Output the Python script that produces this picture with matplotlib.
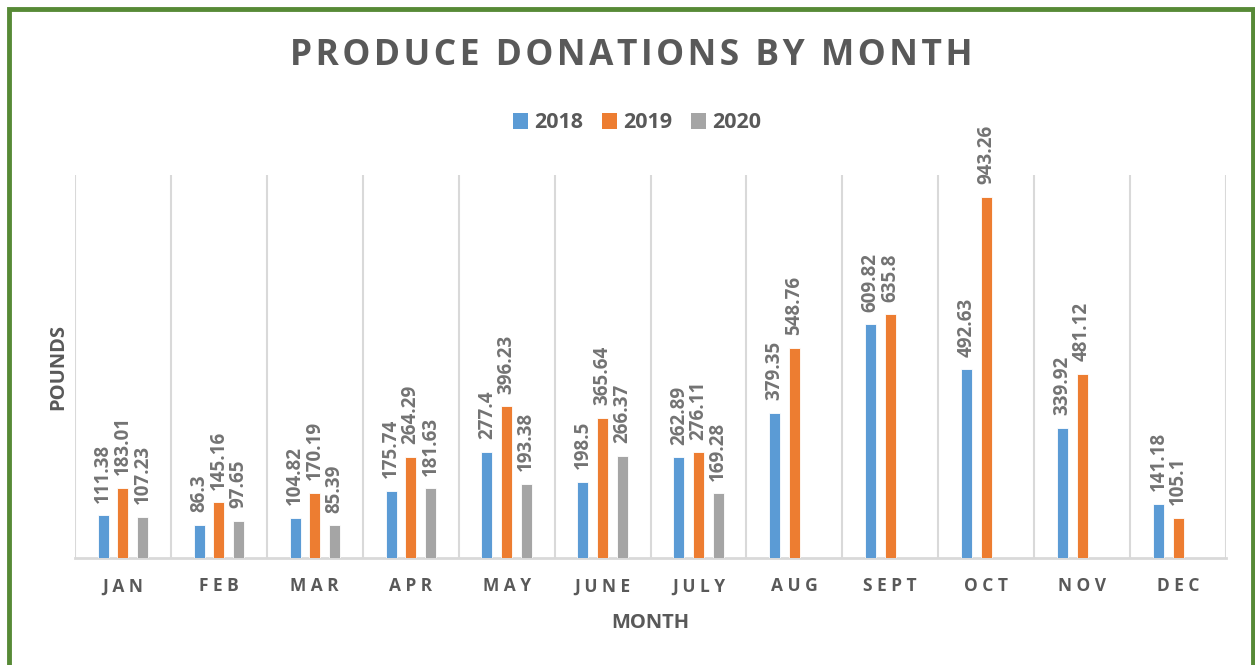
import numpy as np
import matplotlib
matplotlib.use("Agg")
import matplotlib.pyplot as plt
from matplotlib.patches import Patch, Rectangle

months = ["JAN", "FEB", "MAR", "APR", "MAY", "JUNE", "JULY", "AUG", "SEPT", "OCT", "NOV", "DEC"]
years = ["2018", "2019", "2020"]
v2018 = [111.38, 86.3, 104.82, 175.74, 277.4, 198.5, 262.89, 379.35, 609.82, 492.63, 339.92, 141.18]
v2019 = [183.01, 145.16, 170.19, 264.29, 396.23, 365.64, 276.11, 548.76, 635.8, 943.26, 481.12, 105.1]
v2020 = [107.23, 97.65, 85.39, 181.63, 193.38, 266.37, 169.28, None, None, None, None, None]
colors = ["#5B9BD5", "#ED7D31", "#A5A5A5"]

plt.rcParams['font.family'] = ['Open Sans', 'DejaVu Sans']
TXT = "#595959"
LBL = "#737373"

def spaced(s, sep="\u200a"):
    return sep.join(s)

fig = plt.figure(figsize=(12.55, 6.65), dpi=100)
W, H = 1255, 665
ax = fig.add_axes([75 / W, 1 - 558 / H, (1226 - 75) / W, (558 - 175) / H])

x = np.arange(len(months))
pitch = 0.205
bw = 0.115
series = [v2018, v2019, v2020]
for i, (vals, c, yr) in enumerate(zip(series, colors, years)):
    for xi, v in zip(x, vals):
        if v is None:
            continue
        xp = xi + (i - 1) * pitch
        ax.bar(xp, v, width=bw, color=c, edgecolor="white", linewidth=0.6, zorder=3)
        ax.annotate(f"{v:g}", (xp, v), xytext=(0, 9), textcoords="offset points",
                    rotation=90, ha="center", va="bottom",
                    fontsize=13.5, fontweight="bold", color=LBL, zorder=4)

ax.set_xlim(-0.5, len(months) - 0.5)
ax.set_ylim(0, 1000)
for b in np.arange(-0.5, len(months), 1.0):
    ax.axvline(b, color="#D9D9D9", linewidth=1.5, zorder=1)
for sp in ["top", "right", "left"]:
    ax.spines[sp].set_visible(False)
ax.spines["bottom"].set_color("#D9D9D9")
ax.spines["bottom"].set_linewidth(2)
ax.set_yticks([])
ax.set_xticks(x)
ax.set_xticklabels([spaced(m, " ") for m in months], fontsize=12.5, fontweight="bold", color=TXT)
ax.tick_params(axis="x", length=0, pad=14)
ax.set_facecolor("none")

fig.text(650 / W, 1 - 623 / H, "MONTH", ha="center", va="center", fontsize=14.5, fontweight="bold", color=TXT)
fig.text(58 / W, 1 - 367 / H, "POUNDS", ha="center", va="center", rotation=90, fontsize=14.5, fontweight="bold", color=TXT)
fig.text(631 / W, 1 - 56 / H, spaced("PRODUCE DONATIONS BY MONTH", "\u200a"), ha="center", va="center",
         fontsize=25.5, fontweight="bold", color=TXT)

handles = [Patch(facecolor=c, label=y) for c, y in zip(colors, years)]
leg = fig.legend(handles=handles, loc="center", bbox_to_anchor=(637 / W, 1 - 123 / H), ncol=3, frameon=False,
                 handlelength=0.7, handleheight=0.7, handletextpad=0.3, columnspacing=0.85,
                 prop={"size": 15.5, "weight": "bold"})
for t in leg.get_texts():
    t.set_color(TXT)

fig.patches.append(Rectangle((9 / W, -0.05), (1253 - 9) / W, 1.05 - 9 / H, transform=fig.transFigure,
                             fill=False, edgecolor="#578A36", linewidth=3.5))

fig.savefig("out.png", dpi=100)
